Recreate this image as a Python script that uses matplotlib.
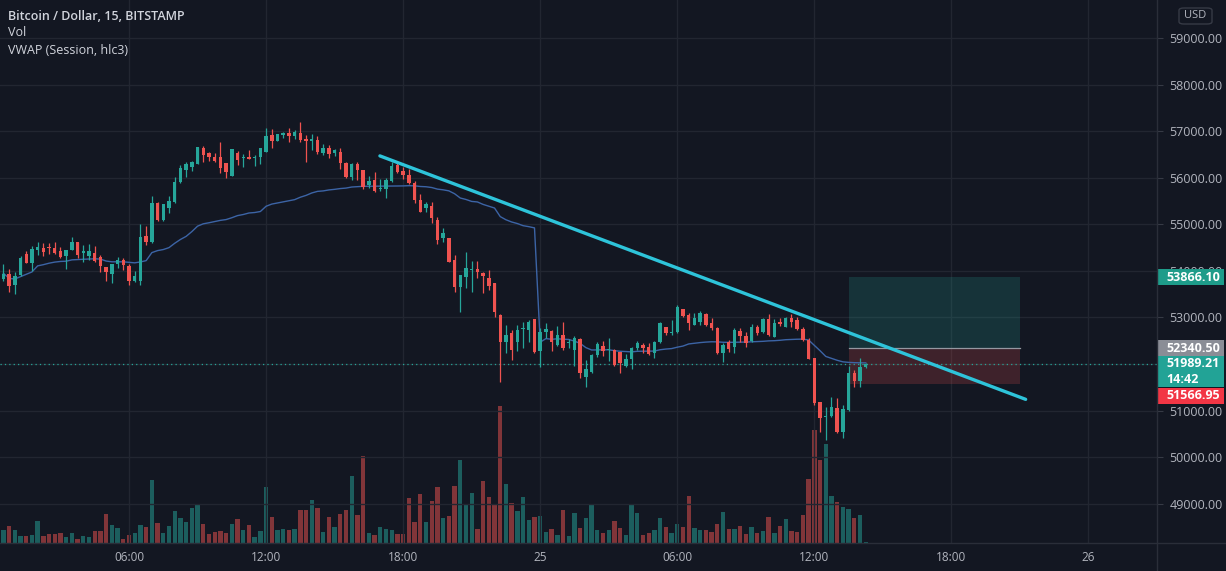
import matplotlib
matplotlib.use("Agg")
import matplotlib.pyplot as plt
from matplotlib.patches import Rectangle, FancyBboxPatch
from matplotlib.transforms import blended_transform_factory
import numpy as np
import pandas as pd

# BTC/USD 15 min bars, Bitstamp, from 24 Mar 00:30
opens = [53826, 53941, 53698, 53912, 54356, 54177, 54450, 54500, 54507, 54500,
         54435, 54313, 54450, 54629, 54392, 54320, 54392, 54306, 54091, 53927,
         54141, 54242, 54113, 53783, 53783, 54757, 54629, 55452, 55094, 55359,
         55474, 55903, 56168, 56226, 56297, 56634, 56526, 56455, 56455, 56311,
         56039, 56526, 56419, 56455, 56433, 56455, 56548, 56920, 56791, 56920,
         56970, 56906, 56956, 56827, 56791, 56813, 56541, 56648, 56526, 56562,
         56311, 56025, 56290, 56168, 55846, 55953, 55760, 55760, 55939, 56276,
         56147, 56061, 55896, 55524, 55344, 55402, 55094, 54715, 54715, 54235,
         53661, 53876, 54020, 54041, 53948, 53841, 53733, 53053, 52480, 52659,
         52480, 52759, 52730, 52967, 52279, 52680, 52700, 52409, 52623, 52440,
         52300, 52530, 51720, 51836, 52193, 52390, 52300, 52301, 52265, 51957,
         52107, 52337, 52408, 52372, 52229, 52480, 52802, 52673, 52695, 53175,
         53053, 52838, 52910, 53074, 52888, 52766, 52229, 52480, 52372, 52709,
         52602, 52502, 52802, 52695, 52960, 52587, 52910, 52802, 52981, 52945,
         52745, 52516, 52122, 51176, 50855, 50883, 51047, 50546, 51012, 51800,
         51642, 51929]
highs = [54141, 54034, 53984, 54328, 54428, 54543, 54614, 54600, 54607, 54621,
         54507, 54450, 54729, 54629, 54557, 54571, 54536, 54342, 54091, 54149,
         54306, 54270, 54141, 53998, 55001, 54965, 55617, 55488, 55431, 55603,
         56011, 56276, 56347, 56362, 56655, 56684, 56562, 56526, 56763, 56311,
         56620, 56577, 56512, 56598, 56490, 56648, 57078, 57049, 56942, 56992,
         57063, 57028, 57207, 56920, 56942, 56906, 56720, 56706, 56620, 56634,
         56347, 56311, 56347, 56168, 56047, 56118, 55975, 55989, 56333, 56311,
         56240, 56183, 55932, 55645, 55474, 55474, 55166, 54929, 54715, 54342,
         53912, 54414, 54220, 54220, 53984, 54020, 53733, 53074, 52838, 52730,
         52838, 52895, 52945, 52967, 52766, 52880, 52720, 52810, 52900, 52545,
         52600, 52552, 52086, 52220, 52470, 52500, 52552, 52315, 52265, 52215,
         52372, 52494, 52458, 52458, 52502, 52910, 52802, 52945, 53268, 53175,
         53089, 53089, 53146, 53103, 52981, 52802, 52444, 52516, 52766, 52766,
         52695, 52859, 52838, 52981, 53067, 52960, 52981, 53017, 53074, 53003,
         52788, 52551, 52122, 51190, 51083, 51284, 51262, 51119, 51957, 51871,
         52122, 52030]
lows = [53783, 53554, 53504, 53898, 54163, 54005, 54342, 54320, 54371, 54356,
        54270, 54041, 54450, 54270, 54199, 54235, 54199, 53984, 53783, 53733,
        54056, 54020, 53698, 53769, 53698, 54557, 54593, 55072, 55072, 55237,
        55452, 55882, 56025, 56147, 56290, 56347, 56362, 56347, 56097, 56003,
        56039, 56276, 56240, 56405, 56261, 56290, 56548, 56648, 56791, 56849,
        56777, 56827, 56777, 56333, 56598, 56505, 56490, 56433, 56476, 56183,
        55989, 55953, 55953, 55760, 55774, 55703, 55717, 55574, 55918, 56111,
        55975, 55860, 55452, 55259, 55259, 55022, 54571, 54614, 54199, 53554,
        53124, 53626, 53540, 53841, 53518, 53590, 53017, 51620, 52229, 52086,
        52279, 52351, 52480, 52229, 51943, 52560, 52285, 52390, 52308, 52351,
        51960, 51692, 51499, 51814, 52158, 52180, 52070, 51957, 51814, 51928,
        51885, 52301, 52229, 52193, 52122, 52458, 52623, 52623, 52673, 53017,
        52730, 52838, 52838, 52816, 52730, 52215, 52050, 52265, 52229, 52480,
        52358, 52480, 52623, 52673, 52602, 52587, 52816, 52788, 52788, 52730,
        52501, 52100, 51119, 50546, 50367, 50869, 50525, 50403, 50997, 51499,
        51499, 51907]
closes = [53927, 53683, 53898, 54270, 54177, 54471, 54521, 54414, 54485, 54392,
          54292, 54450, 54629, 54342, 54428, 54428, 54213, 54113, 53984, 54149,
          54242, 54127, 53783, 53884, 54736, 54614, 55452, 55094, 55431, 55502,
          55918, 56204, 56290, 56333, 56655, 56490, 56455, 56369, 56204, 56132,
          56620, 56383, 56440, 56405, 56455, 56634, 56906, 56791, 56942, 56970,
          56906, 56992, 56813, 56791, 56827, 56562, 56648, 56505, 56598, 56311,
          56025, 56290, 56168, 55810, 55932, 55717, 55774, 55953, 56261, 56132,
          56061, 55882, 55524, 55273, 55430, 55130, 54664, 54808, 54199, 53661,
          53912, 54055, 54041, 53984, 53898, 53683, 53124, 52480, 52623, 52301,
          52730, 52766, 52910, 52251, 52695, 52750, 52470, 52623, 52337, 52480,
          52552, 51810, 51885, 52200, 52420, 52280, 52320, 51978, 52014, 52100,
          52337, 52444, 52337, 52215, 52480, 52888, 52659, 52695, 53232, 53031,
          52874, 52981, 53103, 52838, 52766, 52229, 52408, 52330, 52730, 52602,
          52458, 52802, 52659, 52960, 52623, 52874, 52859, 52981, 52910, 52745,
          52516, 52107, 51155, 50833, 50883, 51069, 50546, 51026, 51800, 51642,
          51929, 51989.21]
volumes = [38, 52, 38, 22, 22, 25, 67, 22, 28, 28, 31, 19, 31, 13, 22, 19, 37, 37, 88, 55,
           46, 13, 25, 31, 55, 49, 190, 61, 31, 52, 97, 76, 64, 106, 118, 58, 28, 34, 37, 31,
           58, 73, 40, 55, 19, 37, 169, 79, 40, 43, 40, 43, 100, 100, 130, 106, 34, 79, 49, 88,
           100, 202, 85, 262, 31, 25, 49, 43, 40, 28, 28, 136, 64, 148, 64, 127, 169, 76, 82, 172,
           250, 115, 151, 43, 187, 139, 118, 412, 178, 121, 97, 139, 70, 79, 82, 34, 43, 25, 100, 22,
           91, 46, 76, 118, 40, 31, 40, 67, 46, 25, 115, 91, 25, 31, 40, 76, 49, 31, 58, 49,
           142, 46, 40, 40, 34, 58, 94, 43, 43, 52, 28, 49, 31, 37, 79, 31, 52, 73, 37, 34,
           85, 193, 340, 250, 298, 142, 124, 109, 103, 76, 85, 4]

start_time = "2021-03-24 00:30"
tick_times = ["2021-03-24 06:00", "2021-03-24 12:00", "2021-03-24 18:00", "2021-03-25 00:00",
              "2021-03-25 06:00", "2021-03-25 12:00", "2021-03-25 18:00", "2021-03-26 00:00"]
tick_labels = ["06:00", "12:00", "18:00", "25", "06:00", "12:00", "18:00", "26"]

# trend line drawing (time, price)
trend_times = ["2021-03-24 16:59", "2021-03-25 21:15"]
trend_prices = [56471, 51240]

# long position tool
pos_start = "2021-03-25 13:30"
pos_end = "2021-03-25 21:00"
entry_price = 52340.50
target_price = 53866.10
stop_price = 51566.95
countdown = "14:42"

bg = "#131722"
green = "#26a69a"
red = "#ef5350"
grid_c = "#222631"
text_c = "#b2b5be"

o = np.array(opens, float)
h = np.array(highs, float)
l = np.array(lows, float)
c = np.array(closes, float)
v = np.array(volumes, float)
n = len(c)
times = pd.date_range(start_time, periods=n, freq="15min")
x = np.arange(n)

def tpos(t):
    return (pd.Timestamp(t) - times[0]) / pd.Timedelta("15min")

# session VWAP on hlc3
df = pd.DataFrame({"tp": (h + l + c) / 3, "v": v, "day": times.date})
df["pv"] = df.tp * df.v
vwap = (df.groupby("day").pv.cumsum() / df.groupby("day").v.cumsum()).values

W, H = 1226, 571
pw, ph = 1157, 543
fig = plt.figure(figsize=(W / 100, H / 100), dpi=100, facecolor=bg)
rect = [0, 1 - ph / H, pw / W, ph / H]
vax = fig.add_axes(rect)
ax = fig.add_axes(rect, sharex=vax)
vax.set_facecolor(bg)
ax.patch.set_alpha(0)

ymin, ymax = 48153, 59821
ax.set_ylim(ymin, ymax)
ax.set_xlim(-0.59, 202.0)
vax.set_ylim(0, 1629)
k = (ymax - ymin) / ph

up = c >= o
cols = np.where(up, green, red)

# volume
vax.bar(x, v, width=0.76, color=cols, alpha=0.5, linewidth=0)
vax.set_yticks([])
vax.tick_params(axis="x", bottom=False, labelbottom=False)
for s in vax.spines.values():
    s.set_visible(False)

# grid
for yy in range(49000, 60000, 1000):
    ax.axhline(yy, color=grid_c, lw=1, zorder=0)
xt = [tpos(t) for t in tick_times]
for xx in xt:
    ax.axvline(xx, color=grid_c, lw=1, zorder=0)

# position tool
p0, p1 = tpos(pos_start), tpos(pos_end)
ax.add_patch(Rectangle((p0, entry_price), p1 - p0, target_price - entry_price,
                       facecolor=green, alpha=0.2, lw=0, zorder=1))
ax.add_patch(Rectangle((p0, stop_price), p1 - p0, entry_price - stop_price,
                       facecolor=red, alpha=0.2, lw=0, zorder=1))
ax.plot([p0, p1], [entry_price, entry_price], color="#9598a1", lw=0.9, zorder=1.5)

# last price line
ax.axhline(c[-1], color=green, lw=0.9, ls=(0, (1, 2.5)), zorder=1.5)

# vwap
ax.plot(x, vwap, color="#3c64a6", lw=1, zorder=2)

# candles
ax.vlines(x, l, h, colors=cols, lw=0.9, zorder=3)
body = np.maximum(np.abs(c - o), 18)
ax.bar(x, body, bottom=np.minimum(o, c), width=0.6, color=cols, linewidth=0, zorder=4)

# trend line
ax.plot([tpos(t) for t in trend_times], trend_prices, color="#2ec4da", lw=2.4,
        solid_capstyle="round", zorder=5)

# axes
for s in ax.spines.values():
    s.set_visible(False)
ax.yaxis.tick_right()
yt = list(range(49000, 60000, 1000))
ax.set_yticks(yt)
# 52000 sits fully under the last-price tag, so it is not shown
ax.set_yticklabels(["" if t == 52000 else f"{t:.2f}" for t in yt])
ax.tick_params(axis="y", length=4, width=0.8, color="#363a45", labelcolor=text_c,
               labelsize=9, pad=5)
ax.set_xticks(xt)
ax.set_xticklabels(tick_labels)
ax.tick_params(axis="x", length=0, labelcolor=text_c, labelsize=8.5, pad=6)
for lab in ax.get_xticklabels() + ax.get_yticklabels():
    lab.set_fontfamily("Open Sans")

fig.add_artist(plt.Line2D([pw / W, pw / W], [0, 1], color="#2a2e39", lw=1))
fig.add_artist(plt.Line2D([0, 1], [1 - ph / H, 1 - ph / H], color="#2a2e39", lw=1))

# price labels on the scale
tr = blended_transform_factory(fig.transFigure, ax.transData)

def price_px(p):
    return (ymax - p) / k

def tag(top_px, bot_px, color, lines, text_col="white"):
    ax.add_patch(Rectangle((pw / W, ymax - bot_px * k), (1224 - pw) / W,
                           (bot_px - top_px) * k, facecolor=color, lw=0,
                           transform=tr, clip_on=False, zorder=10))
    step = (bot_px - top_px) / len(lines)
    for j, s in enumerate(lines):
        yc = top_px + step * (j + 0.5)
        ax.text(1166 / W, ymax - yc * k, s, transform=tr, clip_on=False, zorder=11,
                color=text_col, fontsize=9, fontweight="bold", va="center",
                ha="left", family="Open Sans")

yp = price_px(target_price)
tag(yp - 8.3, yp + 8.3, "#1e9c8a", [f"{target_price:.2f}"])
yp = price_px(entry_price)
tag(yp - 8, yp + 8, "#8a8d96", [f"{entry_price:.2f}"])
yp = price_px(c[-1])
last_bot = yp + 22.5
tag(yp - 8.5, last_bot, "#22a396", [f"{c[-1]:.2f}", countdown])
tag(last_bot + 1, last_bot + 17, "#f23645", [f"{stop_price:.2f}"])

# USD badge
fig.add_artist(FancyBboxPatch((1179 / W, 1 - 24 / H), 33 / W, 16 / H,
                              boxstyle="round,pad=0,rounding_size=0.004",
                              facecolor=bg, edgecolor="#363a45", lw=1,
                              transform=fig.transFigure))
fig.text(1195.5 / W, 1 - 16 / H, "USD", color=text_c, fontsize=8, ha="center",
         va="center", family="Open Sans")

# legend
fig.text(8 / W, 1 - 16 / H, "Bitcoin / Dollar, 15, BITSTAMP", color="#d1d4dc",
         fontsize=9, fontweight="semibold", va="center", family="Open Sans")
fig.text(8 / W, 1 - 33 / H, "Vol", color="#d1d4dc", fontsize=9, va="center",
         family="Open Sans")
fig.text(8 / W, 1 - 50 / H, "VWAP (Session, hlc3)", color="#d1d4dc", fontsize=9,
         va="center", family="Open Sans")

fig.savefig("out.png", dpi=100, facecolor=bg)
